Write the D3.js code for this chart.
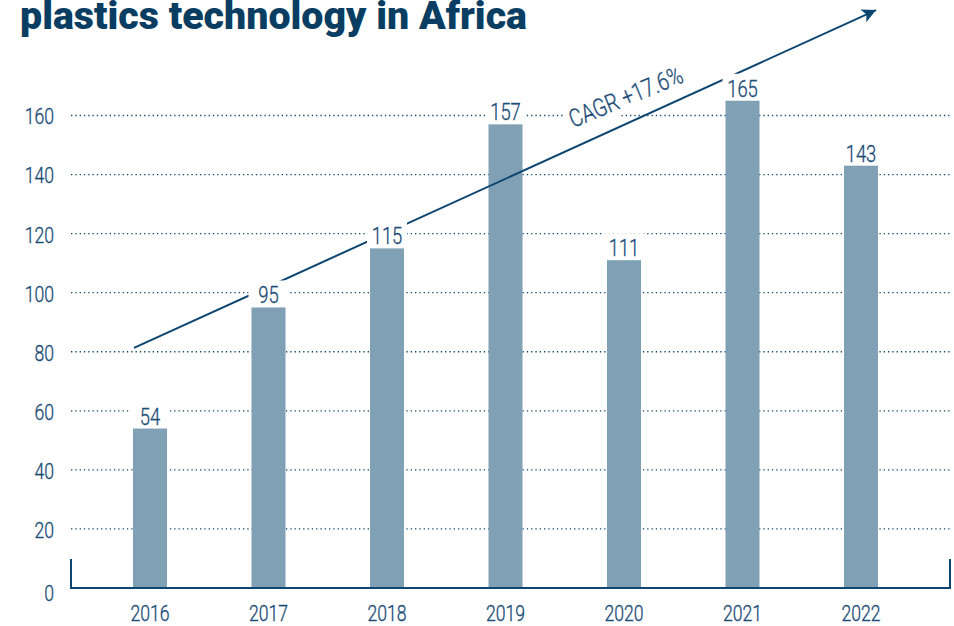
<!DOCTYPE html>
<html>
<head>
<meta charset="utf-8">
<script src="https://cdn.jsdelivr.net/npm/d3@7"></script>
<style>
  body { margin: 0; background: #fff; }
  svg { display: block; }
  .lbl { font-family: Roboto, "Noto Sans", sans-serif; font-weight: 300; fill: #1c4d77;
         stroke: #1c4d77; stroke-width: 0.35;
         transform-box: fill-box; transform: scaleX(0.8); }
  .end { transform-origin: right center; }
  .mid { transform-origin: center center; }
  .start { transform-origin: left center; }
</style>
</head>
<body>
<div id="chart"></div>
<script>
// data
const years = ["2016", "2017", "2018", "2019", "2020", "2021", "2022"];
const values = [54, 95, 115, 157, 111, 165, 143];
const yTicks = [0, 20, 40, 60, 80, 100, 120, 140, 160];
const title = "plastics technology in Africa";
const cagrLabel = "CAGR +17.6%";
// trend arrow, in band steps from a year's centre and in value units
const cagrFrom = {year: "2016", shift: -0.135, value: 81.3};
const cagrTo = {year: "2022", shift: 0.127, value: 195.7};

const width = 954, height = 626;
const navy = "#0d4670";
const barColor = "#7fa0b5";

const svg = d3.select("#chart")
    .append("svg")
    .attr("width", width)
    .attr("height", height);

const x = d3.scaleBand()
    .domain(years)
    .range([90.75, 920.25])
    .paddingInner(0.713)
    .paddingOuter(0.3565);

const y = d3.scaleLinear()
    .domain([0, 160])
    .range([588, 115.5]);

const axisLeft = 71, axisRight = 950;

// title
svg.append("text")
    .attr("x", 20)
    .attr("y", 29)
    .attr("font-family", "Roboto, 'Noto Sans', sans-serif")
    .attr("font-weight", 900)
    .attr("font-size", 38)
    .attr("fill", "#0a3d62")
    .attr("textLength", 507)
    .attr("lengthAdjust", "spacingAndGlyphs")
    .text(title);

// dotted gridlines
svg.append("g")
    .selectAll("line")
    .data(yTicks.filter(d => d > 0))
    .join("line")
    .attr("x1", axisLeft)
    .attr("x2", axisRight)
    .attr("y1", d => y(d))
    .attr("y2", d => y(d))
    .attr("stroke", navy)
    .attr("stroke-width", 1.3)
    .attr("stroke-dasharray", "1.3,3");

// y tick labels
svg.append("g")
    .selectAll("text")
    .data(yTicks)
    .join("text")
    .attr("class", "lbl end")
    .attr("x", 54)
    .attr("y", d => y(d) + (d === 0 ? 5 : 1))
    .attr("dy", "0.36em")
    .attr("text-anchor", "end")
    .attr("font-size", 22)
    .text(d => d);

// bars
svg.append("g")
    .selectAll("rect")
    .data(years)
    .join("rect")
    .attr("x", d => x(d))
    .attr("width", x.bandwidth())
    .attr("y", (d, i) => y(values[i]))
    .attr("height", (d, i) => y(0) - y(values[i]))
    .attr("fill", barColor);

// CAGR arrow
svg.append("defs").append("marker")
    .attr("id", "head")
    .attr("viewBox", "0 0 10 10")
    .attr("refX", 10)
    .attr("refY", 5)
    .attr("markerWidth", 8)
    .attr("markerHeight", 7)
    .attr("markerUnits", "strokeWidth")
    .attr("orient", "auto")
    .append("path")
    .attr("d", "M0,0 L10,5 L0,10 L2.5,5 Z")
    .attr("fill", navy);

const ax = d => x(d.year) + x.bandwidth() / 2 + d.shift * x.step();
const x1 = ax(cagrFrom), y1 = y(cagrFrom.value);
const x2 = ax(cagrTo), y2 = y(cagrTo.value);

svg.append("line")
    .attr("x1", x1).attr("y1", y1)
    .attr("x2", x2).attr("y2", y2)
    .attr("stroke", navy)
    .attr("stroke-width", 2)
    .attr("marker-end", "url(#head)");

// CAGR label with white backing
const t = 0.592;
const lx = x1 + (x2 - x1) * t, ly = y1 + (y2 - y1) * t - 20;
const cagr = svg.append("g")
    .attr("transform", `translate(${lx},${ly}) rotate(-22.5)`);
const cagrText = cagr.append("text")
    .attr("class", "lbl start")
    .attr("font-size", 25)
    .text(cagrLabel);
const bb = cagrText.node().getBBox();
cagr.insert("rect", "text")
    .attr("x", bb.x - 3)
    .attr("y", bb.y)
    .attr("width", bb.width * 0.8 + 6)
    .attr("height", bb.height)
    .attr("fill", "#fff")
    .attr("stroke", "none");

// value labels with white backing
const vl = svg.append("g")
    .selectAll("g")
    .data(years)
    .join("g")
    .attr("transform", (d, i) => `translate(${x(d) + x.bandwidth() / 2},${y(values[i])})`);

vl.append("rect")
    .attr("x", -x.bandwidth() / 2 - 3)
    .attr("width", x.bandwidth() + 6)
    .attr("y", -27)
    .attr("height", 26)
    .attr("fill", "#fff");

vl.append("text")
    .attr("class", "lbl mid")
    .attr("y", -4)
    .attr("text-anchor", "middle")
    .attr("font-size", 23)
    .text((d, i) => values[i]);

// axis frame
svg.append("path")
    .attr("d", `M${axisLeft},559 V${y(0)} H${axisRight} V559`)
    .attr("fill", "none")
    .attr("stroke", navy)
    .attr("stroke-width", 2);

// x labels
svg.append("g")
    .selectAll("text")
    .data(years)
    .join("text")
    .attr("class", "lbl mid")
    .attr("x", d => x(d) + x.bandwidth() / 2)
    .attr("y", 621)
    .attr("text-anchor", "middle")
    .attr("font-size", 22)
    .text(d => d);
</script>
</body>
</html>
